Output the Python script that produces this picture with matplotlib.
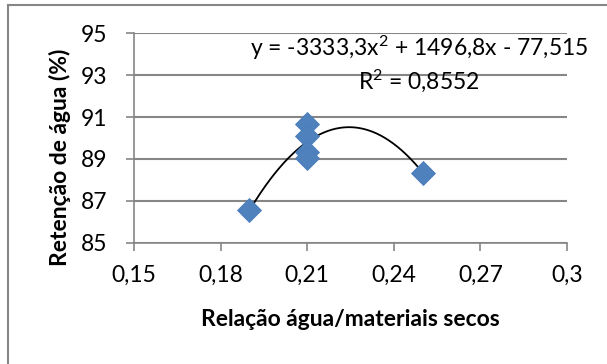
import numpy as np
import matplotlib
matplotlib.use('Agg')
import matplotlib.pyplot as plt
from matplotlib.lines import Line2D

plt.rcParams['font.family'] = ['Lato', 'DejaVu Sans']
plt.rcParams['mathtext.fontset'] = 'custom'
plt.rcParams['mathtext.rm'] = 'Lato'
plt.rcParams['mathtext.it'] = 'Lato'

# data
relacao = [0.19, 0.21, 0.21, 0.21, 0.21, 0.25]
retencao = [86.55, 90.65, 90.1, 89.35, 89.05, 88.35]

# trend line coefficients (as printed on the chart)
coef = [-3333.3, 1496.8, -77.515]
r2 = '0,8552'

xticks = [0.15, 0.18, 0.21, 0.24, 0.27, 0.3]
xlabels = ['0,15', '0,18', '0,21', '0,24', '0,27', '0,3']
yticks = [85, 87, 89, 91, 93, 95]

grey = '#868686'
fs = 16.5

fig = plt.figure(figsize=(6.07, 3.64), dpi=100)
ax = fig.add_axes([0.2208, 0.3332, 0.934 - 0.2208, 0.9085 - 0.3332])

xs = np.linspace(min(relacao), max(relacao), 200)
ax.plot(xs, np.polyval(coef, xs), color='black', lw=1.3, zorder=3)
ax.plot(relacao, retencao, linestyle='none', marker='D', markersize=12,
        color='#4f81bd', markeredgecolor='#4a7ebb', markeredgewidth=0.6,
        zorder=4)

ax.set_xlim(0.15, 0.3)
ax.set_ylim(85, 95)
ax.set_xticks(xticks)
ax.set_xticklabels(xlabels)
ax.set_yticks(yticks)
ax.yaxis.grid(True, color=grey, lw=1.5)
ax.set_axisbelow(True)

for s in ['top', 'right']:
    ax.spines[s].set_visible(False)
for s in ['left', 'bottom']:
    ax.spines[s].set_color(grey)
    ax.spines[s].set_linewidth(1.2)
ax.tick_params(axis='both', colors=grey, length=6, width=1.2, labelsize=fs,
               labelcolor='black')
ax.tick_params(axis='x', pad=10)
ax.tick_params(axis='y', pad=13)

fig.text(350 / 607, 1 - 320 / 364, 'Relação água/materiais secos',
         ha='center', va='center', fontsize=fs, fontweight='bold')
fig.text(60 / 607, 1 - 157 / 364, 'Retenção de água (%)', rotation=90,
         ha='center', va='center', fontsize=fs, fontweight='bold')

eq = r'y = %sx$^2$ + %sx - %s' % (str(coef[0]).replace('.', ','),
                                  str(coef[1]).replace('.', ','),
                                  str(-coef[2]).replace('.', ','))
fig.text(419 / 607, 1 - 48 / 364, eq, ha='center', va='center', fontsize=fs)
fig.text(419 / 607, 1 - 81 / 364, r'R$^2$ = ' + r2, ha='center', va='center',
         fontsize=fs)

# outer chart frame (left and top edges visible)
fig.add_artist(Line2D([8 / 607, 8 / 607], [0, 1 - 5 / 364],
                      transform=fig.transFigure, color=grey, lw=1.5))
fig.add_artist(Line2D([8 / 607, 1], [1 - 5 / 364, 1 - 5 / 364],
                      transform=fig.transFigure, color=grey, lw=1.5))

fig.savefig('out.png', dpi=100)
